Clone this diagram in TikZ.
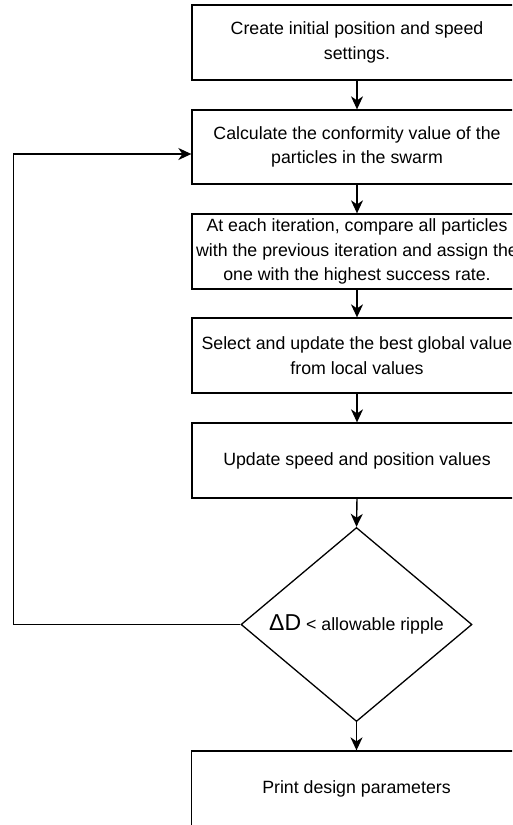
\documentclass[tikz,border=0pt]{standalone}
\usepackage{fontspec}
\setmainfont{Liberation Sans}
\usetikzlibrary{shapes.geometric,arrows.meta}
\tikzset{
  procbox/.style={draw=black, line width=1.3pt, rectangle, minimum width=330pt, minimum height=75pt, inner sep=0pt, align=center, font=\fontsize{17.75}{24.5}\selectfont},
  decbox/.style={draw=black, line width=1.3pt, diamond, minimum width=231pt, minimum height=193pt, inner sep=0pt, align=center, font=\fontsize{17.75}{24.5}\selectfont},
  arr/.style={draw=black, line width=1.4pt, -{Stealth[length=13pt,width=12pt,inset=4pt]}},
  plain/.style={draw=black, line width=1.3pt}
}
\begin{document}
\begin{tikzpicture}[x=1pt,y=-1pt]
\useasboundingbox (0,0) rectangle (512,825);
\clip (0,0) rectangle (512,825);
\node[procbox] (b1) at (357,42.5) {Create initial position and speed\\settings.};
\node[procbox, minimum height=74pt] (b2) at (357,147) {Calculate the conformity value of the\\particles in the swarm};
\node[procbox] (b3) at (357,251.5) {At each iteration, compare all particles\\with the previous iteration and assign the\\one with the highest success rate.};
\node[procbox] (b4) at (357,355.5) {Select and update the best global value\\from local values};
\node[procbox] (b5) at (357,460.5) {Update speed and position values};
\node[decbox] (d) at (356.5,624.5) {{\fontsize{23}{23}\selectfont ΔD} < allowable ripple};
\node[procbox] (b6) at (356.5,788.5) {Print design parameters};
\coordinate (lc) at (13.5,154);
\draw[arr] (b1.south) -- (b2.north);
\draw[arr] (b2.south) -- (b3.north);
\draw[arr] (b3.south) -- (b4.north);
\draw[arr] (b4.south) -- (b5.north);
\draw[arr] (b5.south) -- (d.north);
\draw[arr] (d.south) -- (b6.north);
\draw[arr] (d.west) -| (lc) -- (b2.west |- lc);
\end{tikzpicture}
\end{document}
